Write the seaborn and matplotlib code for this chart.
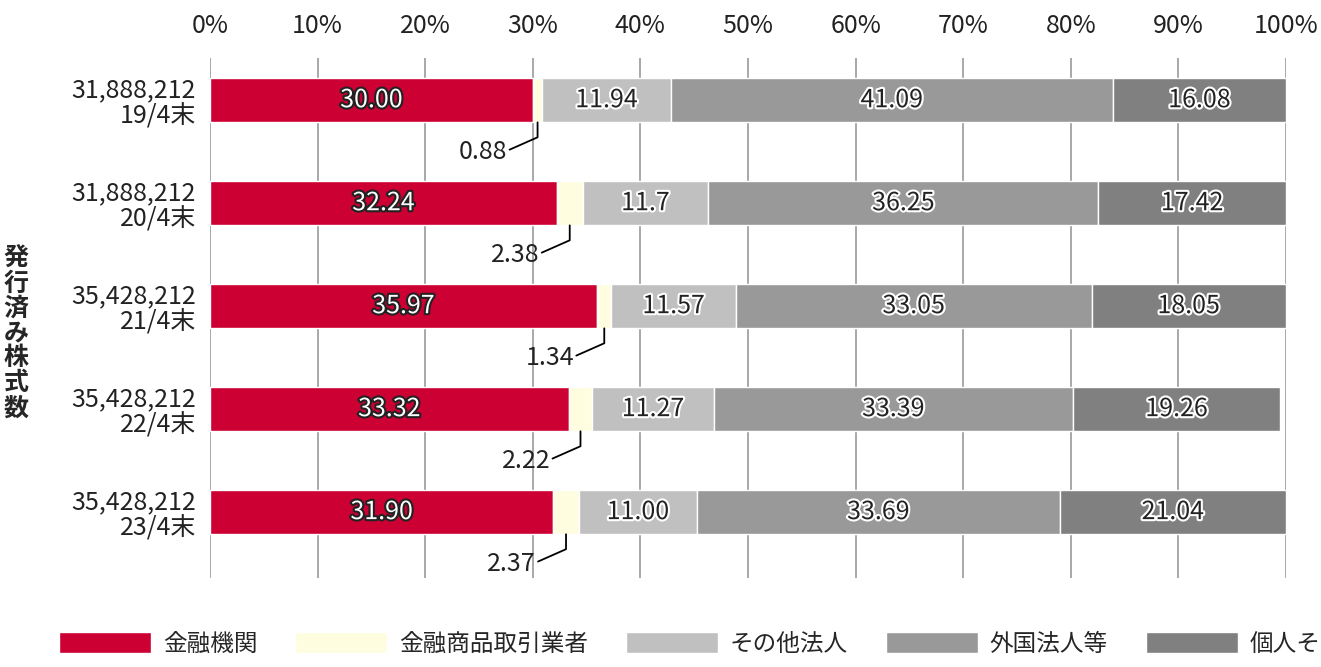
import numpy as np
import matplotlib
matplotlib.use('Agg')
import matplotlib.pyplot as plt
import matplotlib.patheffects as pe
import seaborn as sns

sns.set_style('white')
plt.rcParams['font.family'] = 'Noto Sans CJK JP'

# data
shares = ['31,888,212', '31,888,212', '35,428,212', '35,428,212', '35,428,212']
periods = ['19/4末', '20/4末', '21/4末', '22/4末', '23/4末']
series = ['金融機関', '金融商品取引業者', 'その他法人', '外国法人等', '個人その他']
kinyu = [30.00, 32.24, 35.97, 33.32, 31.90]
shoken = [0.88, 2.38, 1.34, 2.22, 2.37]
sonota = [11.94, 11.70, 11.57, 11.27, 11.00]
gaikoku = [41.09, 36.25, 33.05, 33.39, 33.69]
kojin = [16.08, 17.42, 18.05, 19.26, 21.04]
label_text = [
    ['30.00', '32.24', '35.97', '33.32', '31.90'],
    ['0.88', '2.38', '1.34', '2.22', '2.37'],
    ['11.94', '11.7', '11.57', '11.27', '11.00'],
    ['41.09', '36.25', '33.05', '33.39', '33.69'],
    ['16.08', '17.42', '18.05', '19.26', '21.04'],
]
colors = ['#CC0033', '#FFFDE0', '#C0C0C0', '#999999', '#808080']

fig = plt.figure(figsize=(13.21, 6.67), dpi=100)
ax = fig.add_axes([0.159, 0.1334, 0.8145, 0.7796])

values = np.array([kinyu, shoken, sonota, gaikoku, kojin])
ypos = np.arange(len(periods))
left = np.zeros(len(periods))
for k, (name, vals) in enumerate(zip(series, values)):
    ax.barh(ypos, vals, left=left, height=0.43, color=colors[k], label=name, zorder=2)
    for i, v in enumerate(vals):
        mid = left[i] + v / 2
        if k == 1:
            ax.plot([mid, mid, mid - 2.6], [ypos[i] + 0.215, ypos[i] + 0.36, ypos[i] + 0.48],
                    color='black', lw=1.3, zorder=3)
            ax.text(mid - 2.8, ypos[i] + 0.5, label_text[k][i], ha='right', va='center',
                    fontsize=18, color='#222222')
        else:
            if k == 0:
                fc, sc = 'white', '#222222'
            else:
                fc, sc = '#222222', 'white'
            ax.text(mid, ypos[i], label_text[k][i], ha='center', va='center', fontsize=18,
                    color=fc, zorder=4,
                    path_effects=[pe.withStroke(linewidth=3, foreground=sc)])
    left = left + vals

ax.set_xlim(0, 100)
ax.set_ylim(4.64, -0.41)
ax.set_xticks(np.arange(0, 101, 10))
ax.set_xticklabels([f'{t}%' for t in range(0, 101, 10)], fontsize=18, color='#222222')
ax.xaxis.tick_top()
ax.tick_params(axis='x', length=0, pad=14)
ax.set_yticks(ypos)
ax.set_yticklabels([f'{s}\n{p}' for s, p in zip(shares, periods)], fontsize=18,
                   color='#222222', linespacing=1.0)
ax.tick_params(axis='y', length=0, pad=10)
ax.grid(axis='x', color='#999999', lw=1.2, zorder=0)
ax.set_axisbelow(True)
for s in ax.spines.values():
    s.set_visible(False)

fig.text(0.012, 0.5, '\n'.join('発行済み株式数'), ha='center', va='center', fontsize=18,
         fontweight='bold', linespacing=1.05)

fig.legend(loc='lower center', ncol=5, bbox_to_anchor=(0.54, -0.015), frameon=False,
           fontsize=17, handlelength=3.9, handleheight=1.0, handletextpad=0.5,
           columnspacing=1.6)

fig.savefig('out.png', dpi=100)
